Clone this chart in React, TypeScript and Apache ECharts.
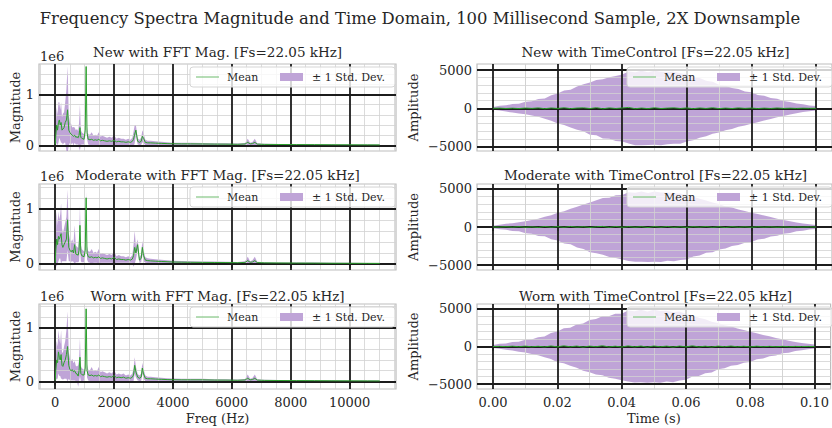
import React, { useEffect, useRef } from 'react';
import * as echarts from 'echarts';

const SUPTITLE = 'Frequency Spectra Magnitude and Time Domain, 100 Millisecond Sample, 2X Downsample';
const fftTitles = ['New with FFT Mag. [Fs=22.05 kHz]', 'Moderate with FFT Mag. [Fs=22.05 kHz]', 'Worn with FFT Mag. [Fs=22.05 kHz]'];
const timeTitles = ['New with TimeControl [Fs=22.05 kHz]', 'Moderate with TimeControl [Fs=22.05 kHz]', 'Worn with TimeControl [Fs=22.05 kHz]'];
const legendLabels = ['Mean', '± 1 Std. Dev.'];

// Frequency bins (Hz)
const freqHz = [0, 20, 50, 80, 110, 140, 170, 200, 230, 260, 300, 340, 380, 420, 460, 500, 540, 580, 620, 660, 700, 740, 780, 810, 840, 870, 900, 940, 980, 1020, 1050, 1080, 1120, 1180, 1240, 1300, 1360, 1420, 1480, 1540, 1600, 1680, 1760, 1840, 1920, 2000, 2080, 2160, 2240, 2320, 2400, 2480, 2560, 2620, 2660, 2700, 2740, 2800, 2860, 2920, 2960, 3000, 3060, 3140, 3240, 3400, 3600, 3800, 4000, 4300, 4600, 5000, 5400, 5800, 6200, 6450, 6540, 6620, 6700, 6780, 6860, 7100, 7600, 8200, 8800, 9400, 10000, 10600, 11025];

// FFT magnitudes in units of 1e6
const newFftMean = [0.02, 0.2, 0.4, 0.3, 0.45, 0.5, 0.4, 0.45, 0.3, 0.32, 0.35, 0.45, 0.5, 0.7, 0.3, 0.25, 0.22, 0.2, 0.18, 0.2, 0.16, 0.17, 0.15, 0.2, 0.35, 0.16, 0.14, 0.13, 0.12, 0.3, 1.55, 0.25, 0.12, 0.11, 0.12, 0.1, 0.11, 0.1, 0.12, 0.09, 0.1, 0.09, 0.08, 0.09, 0.08, 0.1, 0.07, 0.08, 0.07, 0.07, 0.06, 0.07, 0.06, 0.08, 0.12, 0.22, 0.3, 0.08, 0.06, 0.08, 0.18, 0.14, 0.06, 0.05, 0.05, 0.045, 0.04, 0.035, 0.032, 0.03, 0.03, 0.028, 0.026, 0.025, 0.022, 0.028, 0.06, 0.03, 0.035, 0.06, 0.025, 0.02, 0.018, 0.016, 0.015, 0.013, 0.012, 0.011, 0.01];
const newFftStd = [0.02, 0.2, 0.35, 0.3, 0.4, 0.35, 0.3, 0.4, 0.25, 0.3, 0.3, 0.4, 0.6, 0.85, 0.3, 0.2, 0.2, 0.15, 0.18, 0.15, 0.14, 0.15, 0.13, 0.25, 0.45, 0.15, 0.12, 0.11, 0.1, 0.12, 0.08, 0.12, 0.1, 0.1, 0.14, 0.09, 0.1, 0.09, 0.14, 0.08, 0.09, 0.08, 0.07, 0.08, 0.07, 0.1, 0.06, 0.07, 0.06, 0.06, 0.05, 0.06, 0.05, 0.07, 0.15, 0.18, 0.1, 0.06, 0.05, 0.07, 0.12, 0.1, 0.05, 0.04, 0.04, 0.035, 0.03, 0.025, 0.022, 0.02, 0.02, 0.018, 0.016, 0.015, 0.014, 0.02, 0.07, 0.02, 0.03, 0.07, 0.015, 0.012, 0.01, 0.01, 0.009, 0.008, 0.008, 0.007, 0.006];
const modFftMean = [0.02, 0.25, 0.45, 0.35, 0.5, 0.45, 0.5, 0.55, 0.35, 0.3, 0.35, 0.4, 0.45, 0.8, 0.3, 0.25, 0.22, 0.25, 0.2, 0.35, 0.18, 0.17, 0.16, 0.25, 0.7, 0.2, 0.15, 0.14, 0.13, 0.25, 1.2, 0.2, 0.13, 0.12, 0.13, 0.11, 0.12, 0.11, 0.13, 0.1, 0.11, 0.1, 0.09, 0.1, 0.09, 0.12, 0.08, 0.09, 0.08, 0.08, 0.07, 0.08, 0.07, 0.09, 0.15, 0.3, 0.2, 0.35, 0.07, 0.1, 0.3, 0.15, 0.07, 0.06, 0.055, 0.05, 0.045, 0.04, 0.035, 0.032, 0.03, 0.028, 0.026, 0.025, 0.022, 0.028, 0.06, 0.03, 0.035, 0.06, 0.025, 0.02, 0.018, 0.016, 0.015, 0.013, 0.012, 0.011, 0.01];
const modFftStd = [0.02, 0.25, 0.5, 0.35, 0.45, 0.35, 0.4, 0.55, 0.3, 0.25, 0.3, 0.35, 0.4, 0.55, 0.25, 0.2, 0.18, 0.2, 0.16, 0.35, 0.15, 0.14, 0.13, 0.2, 0.35, 0.15, 0.12, 0.11, 0.1, 0.12, 0.1, 0.12, 0.1, 0.1, 0.14, 0.09, 0.1, 0.09, 0.14, 0.08, 0.09, 0.08, 0.07, 0.08, 0.07, 0.11, 0.06, 0.07, 0.06, 0.06, 0.05, 0.06, 0.05, 0.07, 0.2, 0.3, 0.12, 0.1, 0.05, 0.07, 0.12, 0.1, 0.05, 0.045, 0.04, 0.035, 0.03, 0.025, 0.022, 0.02, 0.02, 0.018, 0.016, 0.015, 0.014, 0.02, 0.07, 0.02, 0.03, 0.07, 0.015, 0.012, 0.01, 0.01, 0.009, 0.008, 0.008, 0.007, 0.006];
const wornFftMean = [0.02, 0.22, 0.4, 0.35, 0.55, 0.45, 0.4, 0.5, 0.3, 0.28, 0.35, 0.4, 0.5, 0.65, 0.3, 0.22, 0.2, 0.22, 0.18, 0.2, 0.15, 0.14, 0.1, 0.2, 0.45, 0.15, 0.13, 0.12, 0.12, 0.25, 1.35, 0.2, 0.12, 0.11, 0.12, 0.1, 0.11, 0.1, 0.12, 0.09, 0.1, 0.09, 0.08, 0.09, 0.08, 0.11, 0.07, 0.08, 0.07, 0.08, 0.06, 0.07, 0.06, 0.08, 0.12, 0.3, 0.18, 0.08, 0.06, 0.08, 0.25, 0.14, 0.06, 0.05, 0.05, 0.045, 0.04, 0.035, 0.032, 0.03, 0.03, 0.03, 0.026, 0.025, 0.022, 0.028, 0.06, 0.03, 0.035, 0.06, 0.025, 0.02, 0.018, 0.016, 0.015, 0.013, 0.012, 0.011, 0.01];
const wornFftStd = [0.02, 0.2, 0.35, 0.3, 0.4, 0.35, 0.3, 0.45, 0.25, 0.25, 0.3, 0.35, 0.45, 0.65, 0.25, 0.2, 0.18, 0.2, 0.16, 0.18, 0.14, 0.14, 0.2, 0.2, 0.35, 0.14, 0.12, 0.11, 0.1, 0.12, 0.08, 0.12, 0.1, 0.1, 0.15, 0.09, 0.1, 0.09, 0.15, 0.08, 0.09, 0.08, 0.07, 0.08, 0.07, 0.1, 0.06, 0.07, 0.06, 0.07, 0.05, 0.06, 0.05, 0.07, 0.12, 0.15, 0.1, 0.06, 0.05, 0.07, 0.1, 0.09, 0.05, 0.04, 0.04, 0.035, 0.03, 0.025, 0.022, 0.02, 0.02, 0.02, 0.016, 0.015, 0.014, 0.02, 0.07, 0.02, 0.03, 0.07, 0.015, 0.012, 0.01, 0.01, 0.009, 0.008, 0.008, 0.007, 0.006];

// Time samples (s)
const timeS = [0.000, 0.002, 0.004, 0.006, 0.008, 0.010, 0.012, 0.014, 0.016, 0.018, 0.020, 0.022, 0.024, 0.026, 0.028, 0.030, 0.032, 0.034, 0.036, 0.038, 0.040, 0.042, 0.044, 0.046, 0.048, 0.050, 0.052, 0.054, 0.056, 0.058, 0.060, 0.062, 0.064, 0.066, 0.068, 0.070, 0.072, 0.074, 0.076, 0.078, 0.080, 0.082, 0.084, 0.086, 0.088, 0.090, 0.092, 0.094, 0.096, 0.098, 0.100];
const newTimeMean = [0, 20, -30, 10, -40, 30, -20, 50, -60, 40, -30, 70, -50, 30, 60, -40, 80, -70, 50, -30, 40, 110, -60, 30, -50, 70, -40, 20, 60, -30, 50, -60, 40, -30, 70, -50, 30, -40, 50, -20, 30, -40, 20, -30, 40, -20, 10, -20, 10, -10, 0];
const newTimeStd = [180, 320, 410, 560, 640, 820, 930, 1170, 1330, 1680, 1980, 2270, 2480, 2830, 3080, 3420, 3630, 3880, 4030, 4270, 4380, 4720, 4790, 4870, 4780, 4860, 4810, 4740, 4720, 4630, 4420, 4130, 3920, 3630, 3420, 3130, 2920, 2680, 2470, 2230, 2060, 1780, 1620, 1380, 1210, 980, 820, 630, 510, 370, 290];
const modTimeMean = [0, -10, 30, -20, 40, -30, 20, -50, 60, -30, 50, -40, 70, -20, 40, -60, 30, 80, -50, 60, -40, 50, -30, 40, -70, 50, -30, 60, -40, 30, -50, 40, -20, 50, -40, 30, -60, 40, -30, 20, -40, 30, -20, 20, -30, 10, -20, 10, -10, 10, 0];
const modTimeStd = [170, 290, 390, 520, 600, 780, 900, 1120, 1280, 1570, 1830, 2120, 2330, 2670, 2930, 3270, 3480, 3720, 3880, 4120, 4230, 4520, 4540, 4620, 4530, 4610, 4560, 4480, 4470, 4380, 4220, 3930, 3720, 3430, 3270, 2980, 2770, 2530, 2320, 2080, 1920, 1680, 1520, 1280, 1120, 900, 770, 580, 470, 340, 260];
const wornTimeMean = [0, 20, -20, 40, -30, 50, -40, 30, -60, 70, -50, 90, -40, 60, -80, 50, -30, 100, -60, 40, -70, 80, -50, 60, -90, 70, -40, 50, -80, 60, -50, 90, -60, 40, -70, 50, -30, 60, -40, 30, -50, 40, -30, 20, -30, 20, -20, 10, -10, 10, 0];
const wornTimeStd = [190, 330, 420, 560, 660, 840, 960, 1200, 1380, 1720, 2030, 2320, 2530, 2880, 3130, 3470, 3680, 3920, 4080, 4320, 4430, 4720, 4740, 4820, 4730, 4810, 4770, 4690, 4670, 4590, 4370, 4080, 3870, 3580, 3370, 3080, 2870, 2630, 2420, 2180, 2020, 1730, 1570, 1330, 1170, 930, 800, 600, 490, 360, 280];

// Tick labels
const freqTicks = [0, 2000, 4000, 6000, 8000, 10000];
const magTicks = [0, 1];
const timeTicks = [0, 0.02, 0.04, 0.06, 0.08, 0.1];
const ampTicks = [-5000, 0, 5000];

const FONT = '"DejaVu Serif", "Liberation Serif", serif';
const PURPLE = 'rgba(148,103,189,0.6)';
const PURPLE_SOLID = '#bfa4d7';
const GREEN = '#2ca02c';
const TEXT = '#262626';

const rows = [
  { top: 64, height: 87 },
  { top: 184, height: 86 },
  { top: 304, height: 85 },
];
const magRanges = [[-0.11, 1.6], [-0.11, 1.45], [-0.14, 1.44]];
const ampRanges = [[-5600, 5800], [-5650, 5650], [-5650, 5650]];
const titleY = [52, 175, 296];

function gridLines(xMajor: number[], xMinor: number[], yMajor: number[], yMinor: number[]) {
  const minorStyle = { color: '#d2d2d2', width: 0.8, type: 'solid' };
  const majorStyle = { color: '#1c1c1c', width: 1.8, type: 'solid' };
  const d: any[] = [];
  xMinor.forEach((v) => d.push({ xAxis: v, lineStyle: minorStyle }));
  yMinor.forEach((v) => d.push({ yAxis: v, lineStyle: minorStyle }));
  xMajor.forEach((v) => d.push({ xAxis: v, lineStyle: majorStyle }));
  yMajor.forEach((v) => d.push({ yAxis: v, lineStyle: majorStyle }));
  return {
    silent: true,
    symbol: ['none', 'none'],
    label: { show: false },
    emphasis: { disabled: true },
    animation: false,
    z: 5,
    data: d,
  };
}

function buildOption() {
  const grid: any[] = [];
  const xAxis: any[] = [];
  const yAxis: any[] = [];
  const series: any[] = [];
  const graphic: any[] = [];

  const txt = (text: string, x: number, y: number, size: number, align: string, valign: string, z = 100) => ({
    type: 'text', x, y, silent: true, z,
    style: { text, font: `${size}px ${FONT}`, fill: TEXT, textAlign: align, textVerticalAlign: valign, align, verticalAlign: valign },
  });

  graphic.push(txt(SUPTITLE, 420, 18, 16.4, 'center', 'middle'));

  const fftMeans = [newFftMean, modFftMean, wornFftMean];
  const fftStds = [newFftStd, modFftStd, wornFftStd];
  const timeMeans = [newTimeMean, modTimeMean, wornTimeMean];
  const timeStds = [newTimeStd, modTimeStd, wornTimeStd];

  const freqMinor: number[] = [];
  for (let v = -500; v <= 11500; v += 500) if (v % 2000 !== 0) freqMinor.push(v);
  const timeMinor: number[] = [];
  for (let k = 1; k <= 20; k++) if (k % 4 !== 0) timeMinor.push(Math.round(k * 5) / 1000);
  const ampMinor: number[] = [];
  for (let k = -5; k <= 5; k++) if (k % 5 !== 0) ampMinor.push(k * 1000);

  const addPanel = (
    idx: number, left: number, row: number, xs: number[], mean: number[], std: number[],
    xr: number[], yr: number[], xTicks: number[], yTicks: number[], xMinor: number[], yMinor: number[],
    xName: string, yName: string, yNameGap: number, xFmt: (v: number) => string, yFmt: (v: number) => string,
    title: string, legendLeft: number,
  ) => {
    const { top, height } = rows[row];
    grid.push({ left, top, width: 357, height, show: true, borderColor: '#bdbdbd', borderWidth: 1.2, backgroundColor: 'transparent', containLabel: false });
    const bottomRow = row === 2;
    xAxis.push({
      type: 'value', gridIndex: idx, min: xr[0], max: xr[1],
      axisLine: { show: false },
      splitLine: { show: false },
      axisTick: { show: true, customValues: xTicks, length: 4, lineStyle: { color: '#1c1c1c', width: 1.5 } },
      axisLabel: { show: bottomRow, customValues: xTicks, formatter: xFmt, fontFamily: FONT, fontSize: 13, color: TEXT, margin: 7 },
      name: bottomRow ? xName : '', nameLocation: 'middle', nameGap: 23,
      nameTextStyle: { fontFamily: FONT, fontSize: 13, color: TEXT },
    });
    yAxis.push({
      type: 'value', gridIndex: idx, min: yr[0], max: yr[1],
      axisLine: { show: false },
      splitLine: { show: false },
      axisTick: { show: true, customValues: yTicks, length: 4, lineStyle: { color: '#1c1c1c', width: 1.5 } },
      axisLabel: { show: true, customValues: yTicks, formatter: yFmt, fontFamily: FONT, fontSize: 13, color: TEXT, margin: 5 },
      name: yName, nameLocation: 'middle', nameGap: yNameGap,
      nameTextStyle: { fontFamily: FONT, fontSize: 13, color: TEXT },
    });
    const lower = xs.map((x, i) => mean[i] - std[i]);
    const upper = xs.map((x, i) => mean[i] + std[i]);
    series.push({
      type: 'custom', name: legendLabels[1], xAxisIndex: idx, yAxisIndex: idx,
      data: xs.map((x, i) => [x, lower[i], upper[i]]),
      encode: { x: 0, y: [1, 2] },
      clip: true, silent: true, z: 2,
      renderItem: (params: any, api: any) => {
        if (params.dataIndex !== 0) return null;
        const pts: number[][] = [];
        for (let i = 0; i < xs.length; i++) pts.push(api.coord([xs[i], upper[i]]));
        for (let i = xs.length - 1; i >= 0; i--) pts.push(api.coord([xs[i], lower[i]]));
        return { type: 'polygon', shape: { points: pts }, style: { fill: PURPLE, stroke: null } };
      },
    });
    series.push({
      type: 'line', name: legendLabels[0], xAxisIndex: idx, yAxisIndex: idx, data: xs.map((x, i) => [x, mean[i]]),
      symbol: 'none', showSymbol: false,
      itemStyle: { color: GREEN },
      lineStyle: { color: GREEN, width: 1 }, silent: true, z: 10,
      markLine: gridLines(xTicks, xMinor, yTicks, yMinor),
    });
    // legend (drawn as graphic elements)
    const lx = legendLeft;
    const ly = top + 3;
    const cy = ly + 10;
    graphic.push({
      type: 'rect', silent: true, z: 90,
      shape: { x: lx, y: ly, width: 205, height: 20, r: 3 },
      style: { fill: 'rgba(255,255,255,0.8)', stroke: '#d5d5d5', lineWidth: 1 },
    });
    graphic.push({
      type: 'line', silent: true, z: 95,
      shape: { x1: lx + 6, y1: cy, x2: lx + 29, y2: cy },
      style: { stroke: '#6dbb6d', lineWidth: 1 },
    });
    graphic.push(txt(legendLabels[0], lx + 37, cy, 11, 'left', 'middle'));
    graphic.push({
      type: 'rect', silent: true, z: 95,
      shape: { x: lx + 90, y: cy - 4, width: 23, height: 8 },
      style: { fill: PURPLE_SOLID },
    });
    graphic.push(txt(legendLabels[1], lx + 122, cy, 11, 'left', 'middle'));
    graphic.push(txt(title, left + 178.5, titleY[row], 13.5, 'center', 'middle'));
  };

  for (let r = 0; r < 3; r++) {
    const yr = magRanges[r];
    const magMinor: number[] = [];
    for (let k = -1; k <= 8; k++) {
      const v = Math.round(k * 2) / 10;
      if (v === 0 || v === 1) continue;
      if (v > yr[0] + 0.01 && v < yr[1] - 0.01) magMinor.push(v);
    }
    addPanel(r, 39, r, freqHz, fftMeans[r], fftStds[r], [-551, 11576], yr, freqTicks, magTicks, freqMinor, magMinor,
      'Freq (Hz)', 'Magnitude', 14, (v) => String(v), (v) => String(v), fftTitles[r], 190);
    graphic.push(txt('1e6', 40, rows[r].top - 1, 13, 'left', 'bottom'));
  }
  for (let r = 0; r < 3; r++) {
    addPanel(3 + r, 477, r, timeS, timeMeans[r], timeStds[r], [-0.005, 0.105], ampRanges[r], timeTicks, ampTicks, timeMinor, ampMinor,
      'Time (s)', 'Amplitude', 57, (v) => v.toFixed(2), (v) => (v < 0 ? '\u2212' + Math.abs(v) : String(v)), timeTitles[r], 627);
  }

  return {
    animation: false,
    backgroundColor: '#ffffff',
    textStyle: { fontFamily: FONT },
    grid, xAxis, yAxis, series, graphic,
  };
}

export default function App() {
  const ref = useRef<HTMLDivElement>(null);
  useEffect(() => {
    document.body.style.margin = '0';
    const chart = echarts.init(ref.current as HTMLDivElement, null, { renderer: 'svg' });
    chart.setOption(buildOption() as any);
    return () => chart.dispose();
  }, []);
  return <div ref={ref} style={{ width: 832, height: 428 }} />;
}
